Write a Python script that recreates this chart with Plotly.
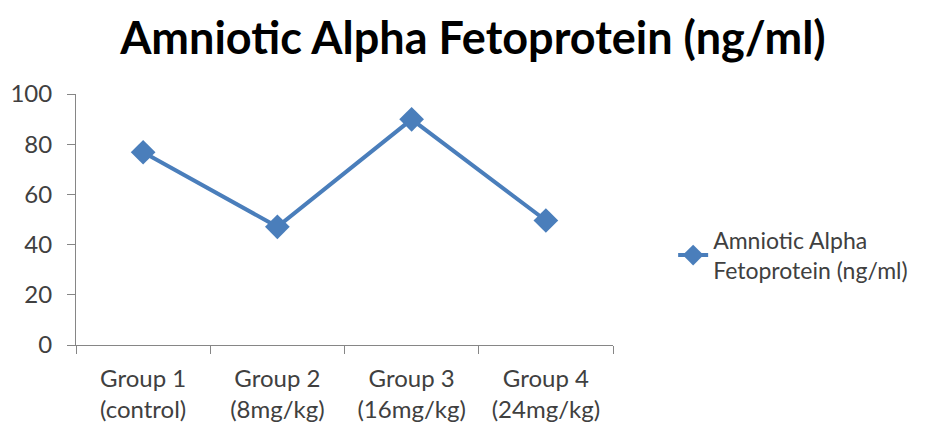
import plotly.graph_objects as go

categories = ["Group 1<br>(control)", "Group 2<br>(8mg/kg)", "Group 3<br>(16mg/kg)", "Group 4<br>(24mg/kg)"]
values = [76.8, 47.1, 89.9, 49.6]
series_name = "Amniotic Alpha<br>Fetoprotein (ng/ml)"
title_text = "Amniotic Alpha Fetoprotein (ng/ml)"
y_ticks = [0, 20, 40, 60, 80, 100]

color = "#4a7ebb"
font_family = "Lato, Open Sans, Liberation Sans, sans-serif"

fig = go.Figure()
fig.add_trace(go.Scatter(
    x=categories, y=values, name=series_name, mode="lines+markers",
    line=dict(color=color, width=4),
    marker=dict(symbol="diamond", size=19, color=color),
))

fig.update_layout(
    width=928, height=423,
    margin=dict(l=68, r=323, t=86, b=86),
    paper_bgcolor="white", plot_bgcolor="white",
    font=dict(family=font_family, color="#404040", size=24),
    title=dict(text="<b>" + title_text + "</b>", x=0.501, xanchor="center", xref="container",
               y=0.929, yanchor="middle", yref="container",
               font=dict(size=45, color="#000000", family=font_family)),
    showlegend=True,
    legend=dict(x=1.112, xanchor="left", y=0.358, yanchor="middle",
                font=dict(size=23, color="#404040"), bgcolor="rgba(0,0,0,0)"),
)
fig.update_xaxes(
    type="category", range=[-0.5, 3.5], tickson="boundaries", automargin=False,
    showline=True, linecolor="#868686", linewidth=1,
    ticks="outside", ticklen=8, tickcolor="#868686", ticklabelstandoff=12,
    showgrid=False, zeroline=False, tickfont=dict(size=24, color="#404040"),
)
fig.update_yaxes(
    range=[0, 100], tickvals=y_ticks, automargin=False,
    showline=True, linecolor="#868686", linewidth=1,
    ticks="outside", ticklen=8, tickcolor="#868686", ticklabelstandoff=10,
    showgrid=False, zeroline=False, tickfont=dict(size=24, color="#404040"),
)

fig.write_html("out.html")
